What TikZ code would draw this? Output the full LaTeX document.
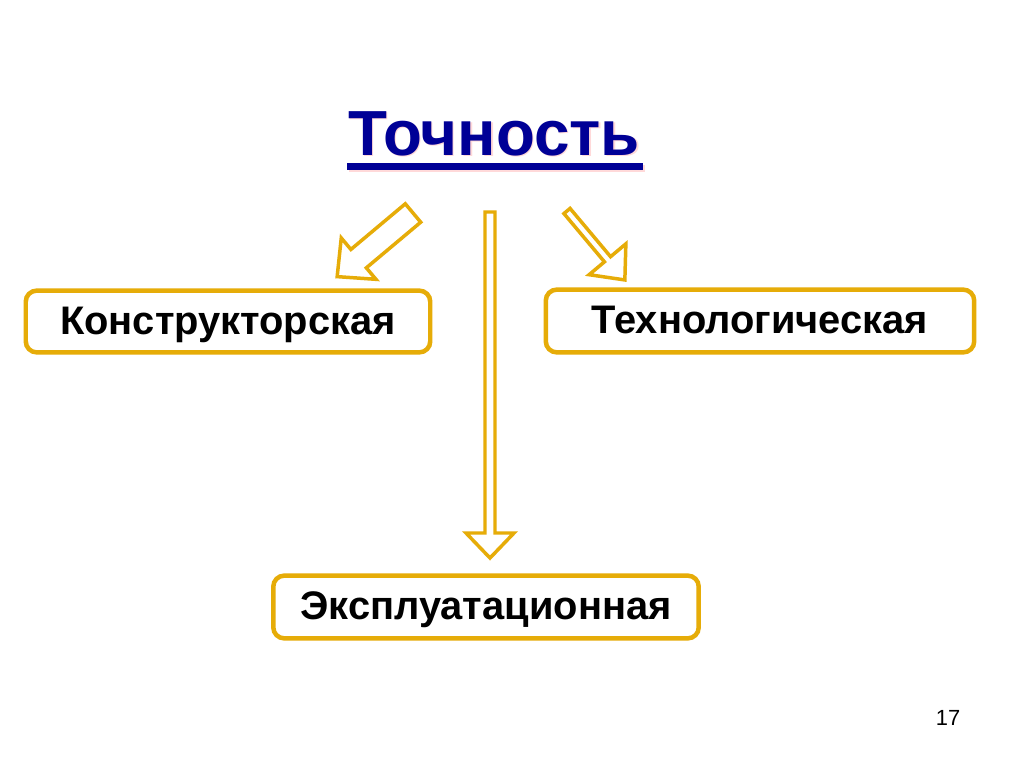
\documentclass[tikz,border=0pt]{standalone}
\usepackage{fontspec}
\setmainfont{Liberation Sans}
\definecolor{gold}{RGB}{230,172,8}
\definecolor{navy}{RGB}{0,0,150}
\tikzset{
  framebox/.style={draw=gold, line width=4.5pt, rounded corners=11pt, fill=white,
    font=\fontsize{40}{44}\bfseries\selectfont, inner sep=0pt, text depth=2pt},
  hollow/.style={draw=gold, line width=3.5pt, fill=white, line join=miter}
}
\begin{document}
\begin{tikzpicture}[x=1bp,y=-1bp]
    \useasboundingbox[fill=white] (0,0) rectangle (1024,767);
    \node[anchor=base, text=red!15, font=\fontsize{64}{68}\bfseries\selectfont] at (495.5,156.5){Точность};
    \node[anchor=base, text=navy, font=\fontsize{64}{68}\bfseries\selectfont] (title) at (494,155){Точность};
    \fill[red!15] (348.5,164.5) rectangle (644.5,171.5);
    \fill[navy] (347,163) rectangle (643,170);
    \node[framebox, minimum width=406pt, minimum height=62pt] (konstr) at (228,321.5){Конструкторская};
    \node[framebox, minimum width=430pt, minimum height=63pt] (tehno) at (760,321){Технологическая};
    \node[framebox, minimum width=427pt, minimum height=63pt] (ekspl) at (486,607){Эксплуатационная};
    \foreach \px/\py/\ang/\len/\s/\hw/\hl in {413/213/220/99/12/27/28, 490/212/-90/346/5/24/25, 567/211/-50/90/4/24/27}
        \draw[hollow, shift={(\px,\py)}, rotate=\ang] (0,\s) -- (\len-\hl,\s) -- (\len-\hl,\hw) -- (\len,0)
            -- (\len-\hl,-\hw) -- (\len-\hl,-\s) -- (0,-\s) -- cycle;
    \node[font=\fontsize{22}{24}\selectfont] (page) at (948,718){17};
\end{tikzpicture}
\end{document}
